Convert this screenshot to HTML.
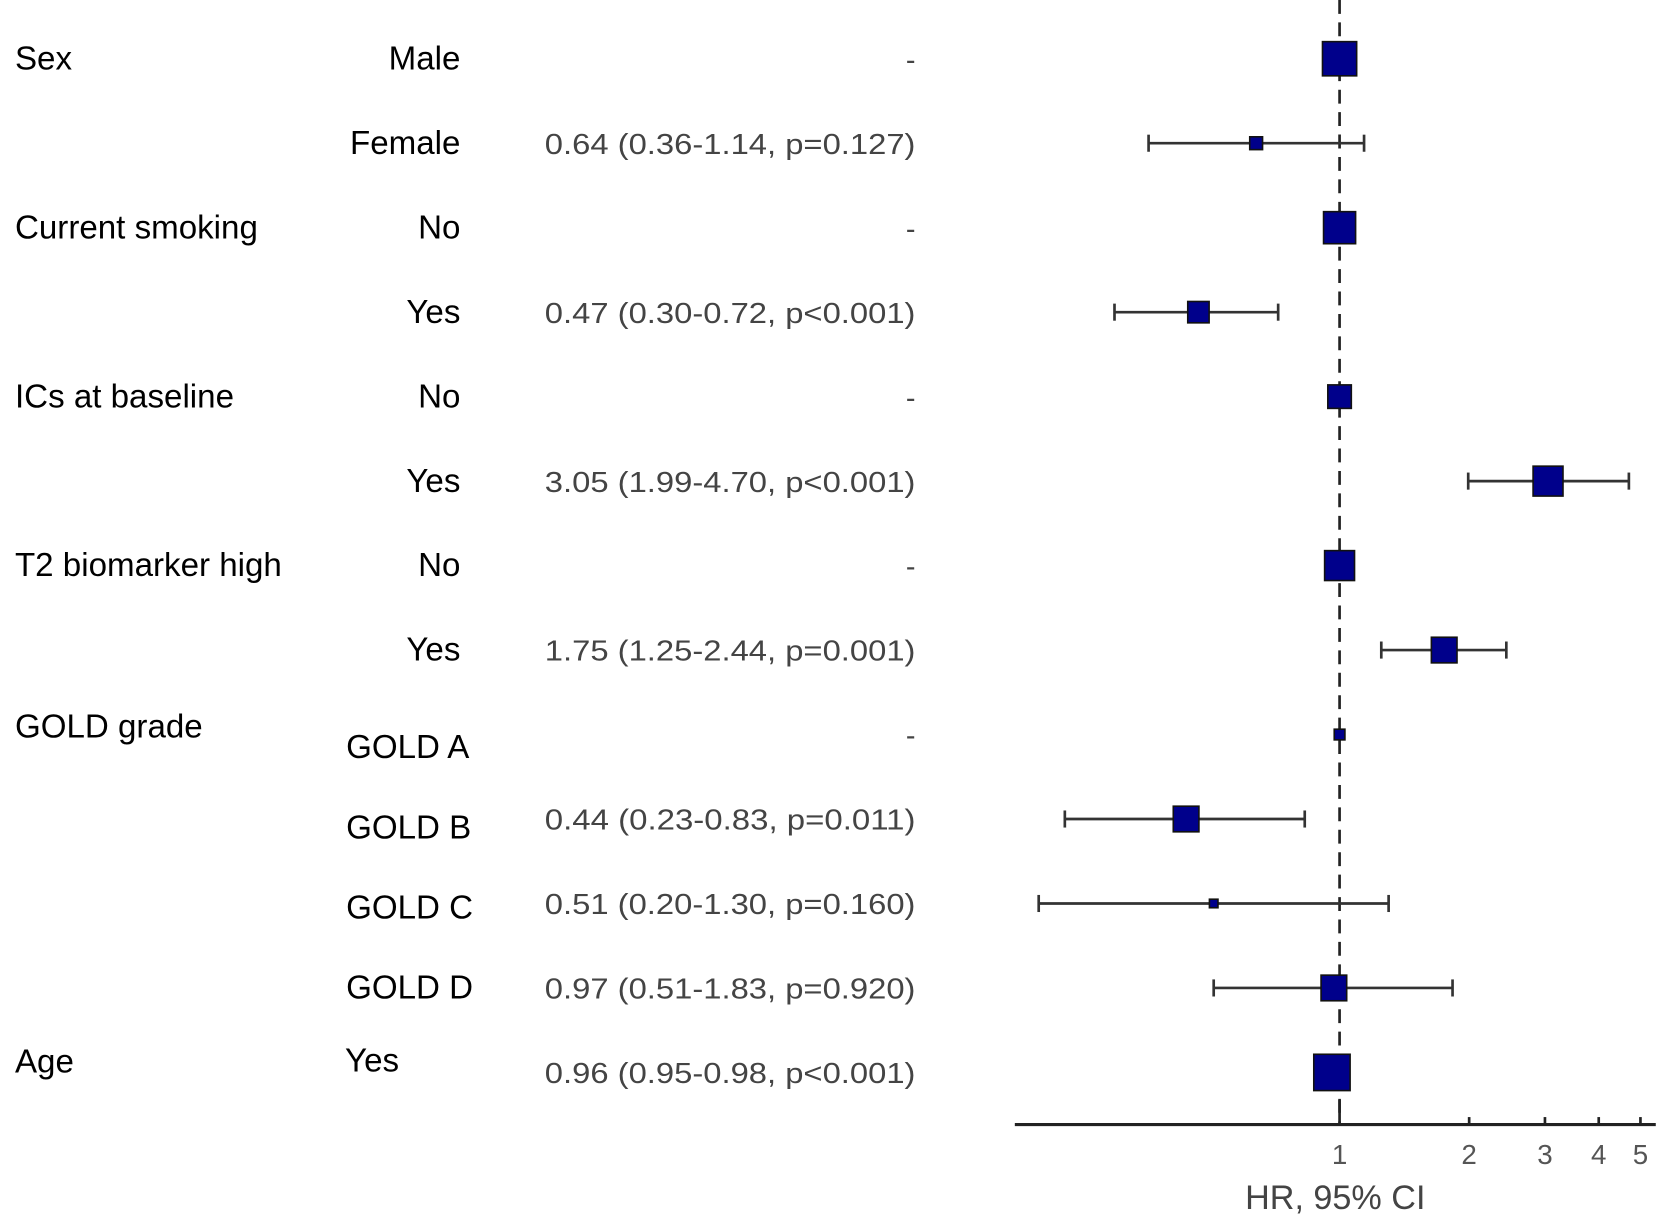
<!DOCTYPE html>
<html><head><meta charset="utf-8"><style>
html,body{margin:0;padding:0;background:#fff;}
svg{display:block;font-family:"Liberation Sans",Arial,sans-serif;}
</style></head><body>
<svg id="chart" width="1675" height="1226" viewBox="0 0 1568 1148" preserveAspectRatio="none" xmlns="http://www.w3.org/2000/svg">
<g id="labels"></g>
<g id="marks"></g>
<g id="axis"></g>
</svg>
<script>
const groups = ["Sex","","Current smoking","","ICs at baseline","","T2 biomarker high","","GOLD grade","","","","Age"];
const levels = ["Male","Female","No","Yes","No","Yes","No","Yes","GOLD A","GOLD B","GOLD C","GOLD D","Yes"];
const hr = [1,0.64,1,0.47,1,3.05,1,1.75,1,0.44,0.51,0.97,0.96];
const lo = [null,0.36,null,0.30,null,1.99,null,1.25,null,0.23,0.20,0.51,0.95];
const hi = [null,1.14,null,0.72,null,4.70,null,2.44,null,0.83,1.30,1.83,0.98];
const weights = [32,12,30,20,22,28,28,24,10,24,8,24,34];
const valueText = ["-","0.64 (0.36-1.14, p=0.127)","-","0.47 (0.30-0.72, p<0.001)","-","3.05 (1.99-4.70, p<0.001)","-","1.75 (1.25-2.44, p=0.001)","-","0.44 (0.23-0.83, p=0.011)","0.51 (0.20-1.30, p=0.160)","0.97 (0.51-1.83, p=0.920)","0.96 (0.95-0.98, p<0.001)"];
const ticks = [1,2,3,4,5];

const NS="http://www.w3.org/2000/svg";
const x = v => 1254 + 175*Math.log(v);
const y = i => 55 + i*79.1;
function mk(tag, attrs, parent){const e=document.createElementNS(NS,tag);for(const k in attrs)e.setAttribute(k,attrs[k]);parent.appendChild(e);return e;}
const L=document.getElementById('labels'), M=document.getElementById('marks'), A=document.getElementById('axis');
const FS=31;

let ref=mk('line',{x1:1254,y1:0,x2:1254,y2:1053,stroke:'#222','stroke-width':2.5,'stroke-dasharray':'13,8'},M);



groups.forEach((g,i)=>{
  const yy=y(i);
  if(g){
    const gy = (i===8)? yy-7 : (i===12? yy-10 : yy);
    const t=mk('text',{x:14,y:gy+10,'font-size':FS,fill:'#000'},L); t.textContent=g;
    
    
  }
  const isGold = levels[i].startsWith('GOLD');
  let lt;
  if(isGold){ lt=mk('text',{x:324,y:699+75*(i-8)+11,'font-size':FS,fill:'#000'},L); }
  else if(i===12){ lt=mk('text',{x:323,y:yy-1,'font-size':FS,fill:'#000'},L); }
  else { lt=mk('text',{x:431,y:yy+10,'font-size':FS,fill:'#000','text-anchor':'end'},L); }
  lt.textContent=levels[i];
  
  

  const vt=mk('text',{x:857,y:yy+10,'font-size':27,fill:'#444','text-anchor':'end'},L);
  vt.textContent=valueText[i];
  if(valueText[i].length>3){vt.setAttribute('textLength',347);vt.setAttribute('lengthAdjust','spacingAndGlyphs');}
  
  

  if(lo[i]!==null){
    const ci=mk('line',{x1:x(lo[i]),y1:yy,x2:x(hi[i]),y2:yy,stroke:'#333','stroke-width':2.5},M);
    
    
    [lo[i],hi[i]].forEach(v=>{
      const c=mk('line',{x1:x(v),y1:yy-8,x2:x(v),y2:yy+8,stroke:'#333','stroke-width':2.5},M);
      
      
    });
  }
  const w=weights[i];
  const b=mk('rect',{x:x(hr[i])-w/2,y:yy-w/2,width:w,height:w,fill:'#00008b',stroke:'#111','stroke-width':1.5},M);
  
  
});

const ax=mk('line',{x1:950,y1:1053,x2:1550,y2:1053,stroke:'#222','stroke-width':3},A);


ticks.forEach(t=>{
  const tk=mk('line',{x1:x(t),y1:t===1?1030:1046,x2:x(t),y2:1053,stroke:'#222','stroke-width':2.5},A);
  
  
  const tl=mk('text',{x:x(t),y:1090,'font-size':26,fill:'#555','text-anchor':'middle'},A);
  tl.textContent=t;
  
  
});
const xt=mk('text',{x:1250,y:1132,'font-size':32,fill:'#444','text-anchor':'middle'},A);
xt.textContent='HR, 95% CI';


</script>
</body></html>
